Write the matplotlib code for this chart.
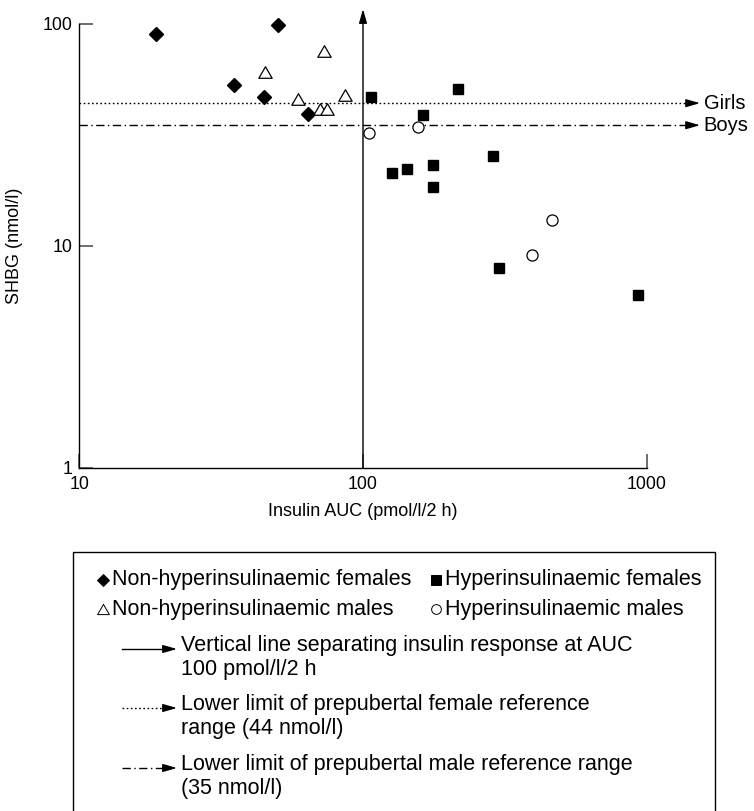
import matplotlib
matplotlib.use("Agg")
import matplotlib.pyplot as plt
from matplotlib.lines import Line2D
from matplotlib.patches import Rectangle, FancyArrowPatch
from matplotlib.path import Path

plt.rcParams['font.family'] = ['Liberation Sans', 'DejaVu Sans']

# --- Datos ---
# Insulin AUC (pmol/l/2 h) y SHBG (nmol/l)
nohiper_fem_x = [18.6, 50.2, 35.1, 44.8, 64.0]
nohiper_fem_y = [90.1, 99.0, 53.1, 46.9, 39.3]

nohiper_masc_x = [45.2, 72.8, 59.0, 70.6, 74.7, 86.4]
nohiper_masc_y = [60.8, 75.6, 45.9, 41.4, 41.4, 47.9]

hiper_fem_x = [106.7, 216, 162.6, 126.5, 142.9, 176.5, 176.5, 287, 301, 931]
hiper_fem_y = [46.9, 51.0, 38.9, 21.3, 22.2, 23.2, 18.4, 25.4, 7.96, 6.02]

hiper_masc_x = [105, 156, 463, 394]
hiper_masc_y = [32.3, 34.4, 13.1, 9.1]

corte_insulina = 100   # pmol/l/2 h
limite_chicas = 44     # nmol/l
limite_chicos = 35     # nmol/l

x_ticks = [10, 100, 1000]
y_ticks = [1, 10, 100]

# triangulo equilatero (marcador)
triangulo = Path([(-1, -0.866), (1, -0.866), (0, 0.866), (-1, -0.866)], closed=True)

W, H = 754, 811
fig = plt.figure(figsize=(W / 100, H / 100), dpi=100)
ax = fig.add_axes([79.3 / W, 1 - 468 / H, (646.7 - 79.3) / W, (468 - 24) / H])

ax.set_xscale('log')
ax.set_yscale('log')
ax.set_xlim(10, 1000)
ax.set_ylim(1, 100)
ax.set_xticks(x_ticks)
ax.set_xticklabels([str(t) for t in x_ticks])
ax.set_yticks(y_ticks)
ax.set_yticklabels([str(t) for t in y_ticks])
ax.minorticks_off()
ax.tick_params(direction='in', length=10, width=1.2, color='#555555',
               labelsize=12.8)
ax.tick_params(axis='x', pad=6)
ax.tick_params(axis='y', pad=5)
ax.spines['top'].set_visible(False)
ax.spines['right'].set_visible(False)
for s in ['left', 'bottom']:
    ax.spines[s].set_linewidth(1.0)

# lineas de referencia
x_fin = 1542
cabeza = dict(arrowstyle='-|>,head_length=0.7,head_width=0.2', color='black',
              lw=1, shrinkA=0, shrinkB=0, mutation_scale=12)
ax.plot([10, x_fin * 0.95], [limite_chicas] * 2, color='black', ls=(0, (1.2, 1.8)),
        lw=1, clip_on=False)
ax.plot([10, x_fin * 0.95], [limite_chicos] * 2, color='black',
        ls=(0, (6, 2.5, 1, 2.5)), lw=1, clip_on=False)
ax.annotate('', xy=(x_fin, limite_chicas), xytext=(x_fin * 0.93, limite_chicas),
            arrowprops=cabeza, annotation_clip=False)
ax.annotate('', xy=(x_fin, limite_chicos), xytext=(x_fin * 0.93, limite_chicos),
            arrowprops=cabeza, annotation_clip=False)
ax.text(x_fin * 1.03, limite_chicas, 'Girls', fontsize=14.5, va='center', ha='left')
ax.text(x_fin * 1.03, limite_chicos, 'Boys', fontsize=14.5, va='center', ha='left')

ax.annotate('', xy=(corte_insulina, 116.8), xytext=(corte_insulina, 1),
            arrowprops=cabeza, annotation_clip=False)

# puntos
ax.plot(nohiper_fem_x, nohiper_fem_y, ls='none', marker='D', ms=6.8,
        mfc='black', mec='black', clip_on=False)
ax.plot(nohiper_masc_x, nohiper_masc_y, ls='none', marker=triangulo, ms=9.6,
        mfc='white', mec='black', mew=0.9, clip_on=False)
ax.plot(hiper_fem_x, hiper_fem_y, ls='none', marker='s', ms=7.8,
        mfc='black', mec='black', clip_on=False)
ax.plot(hiper_masc_x, hiper_masc_y, ls='none', marker='o', ms=8,
        mfc='white', mec='black', mew=0.9, clip_on=False)

ax.set_xlabel('Insulin AUC (pmol/l/2 h)', fontsize=13, labelpad=7)
ax.set_ylabel('SHBG (nmol/l)', fontsize=13, labelpad=14)

# --- leyenda dibujada a mano ---
def fx(px):
    return px / W

def fy(py):
    return 1 - py / H

fig.add_artist(Rectangle((fx(73), fy(830)), fx(715) - fx(73), fy(552) - fy(830),
                         transform=fig.transFigure, fill=False, ec='black', lw=1))

fs_ley = 15.5
filas = [
    (103, 580, 'D', 'black', 6, 'Non-hyperinsulinaemic females'),
    (436, 580, 's', 'black', 7.5, 'Hyperinsulinaemic females'),
    (103, 609, triangulo, 'white', 8.5, 'Non-hyperinsulinaemic males'),
    (436, 609, 'o', 'white', 7, 'Hyperinsulinaemic males'),
]
for px, py, mk, cara, tam, texto in filas:
    fig.add_artist(Line2D([fx(px)], [fy(py)], marker=mk, ms=tam, mfc=cara,
                          mec='black', mew=0.7, ls='none', transform=fig.transFigure))
    fig.text(fx(px + 9), fy(py), texto, fontsize=fs_ley, va='center', ha='left')

lineas = [
    (649, '-', 'Vertical line separating insulin response at AUC\n100 pmol/l/2 h'),
    (708, (0, (1.2, 1.8)), 'Lower limit of prepubertal female reference\nrange (44 nmol/l)'),
    (768, (0, (6, 2.5, 1, 2.5)), 'Lower limit of prepubertal male reference range\n(35 nmol/l)'),
]
for py, estilo, texto in lineas:
    fig.add_artist(Line2D([fx(122), fx(168)], [fy(py)] * 2, color='black', lw=1,
                          ls=estilo, transform=fig.transFigure))
    fig.add_artist(FancyArrowPatch(
        (fx(166), fy(py)), (fx(177), fy(py)), transform=fig.transFigure,
        arrowstyle='-|>,head_length=0.7,head_width=0.2', mutation_scale=12,
        color='black', lw=1, shrinkA=0, shrinkB=0))
    fig.text(fx(181), fy(py - 14), texto, fontsize=fs_ley, va='top', ha='left',
             linespacing=1.2)

fig.savefig('out.png', dpi=100)
